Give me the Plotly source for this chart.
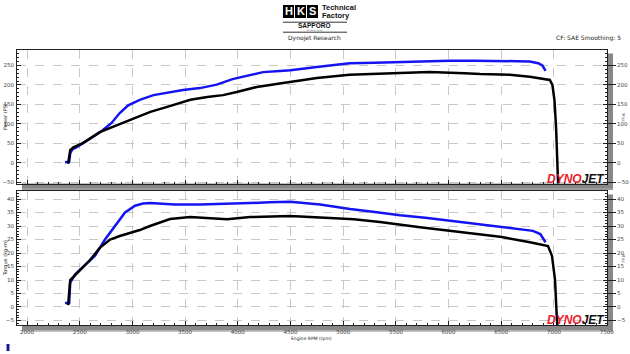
import plotly.graph_objects as go

# ---------------- data ----------------
rpm_pw_mod = [2360, 2400, 2410, 2430, 2480, 2530, 2600, 2700, 2800, 2880, 2960, 3070, 3200, 3350,
              3480, 3640, 3800, 3950, 4100, 4240, 4400, 4500, 4750, 5060, 5300, 5540, 5800, 6010,
              6250, 6490, 6650, 6770, 6850, 6890, 6920]
pw_mod = [2, 3, 25, 35, 42, 51, 62, 80, 102, 128, 148, 162, 174, 181,
          187, 192, 201, 215, 224, 233, 236, 238, 246, 256, 257, 259, 261, 262,
          262, 262, 261, 260, 256, 250, 236]

rpm_pw_base = [2390, 2400, 2410, 2440, 2530, 2690, 2850, 3000, 3170, 3330, 3550, 3710, 3860, 3990,
               4180, 4430, 4750, 5060, 5300, 5540, 5820, 6010, 6150, 6300, 6580, 6770, 6910, 6960,
               6985, 7005, 7020, 7030, 7040]
pw_base = [-2, 20, 33, 40, 51, 79, 97, 113, 131, 144, 162, 169, 174, 182,
           195, 205, 218, 226, 229, 231, 233, 232, 230, 228, 226, 221, 215, 213,
           200, 160, 90, 10, -60]

rpm_tq_mod = [2360, 2400, 2410, 2455, 2550, 2645, 2740, 2835, 2930, 3025, 3100, 3170, 3400, 3640,
              3900, 4120, 4300, 4500, 4780, 5065, 5300, 5540, 5800, 6010, 6250, 6490, 6700, 6800,
              6870, 6920]
tq_mod = [1.5, 1.5, 9, 12, 15.5, 19, 25, 30, 35, 37.5, 38.3, 38.5, 38, 38,
          38.2, 38.5, 38.8, 39.0, 38, 36.3, 35.2, 34, 33, 32, 31, 29.7, 28.7, 28.2,
          27, 24]

rpm_tq_base = [2390, 2400, 2410, 2503, 2598, 2693, 2788, 2880, 2977, 3070, 3167, 3357, 3547, 3736,
               3900, 4116, 4300, 4495, 4875, 5100, 5349, 5729, 6108, 6488, 6772, 6900, 6943, 6981,
               7010, 7028, 7040]
tq_base = [0.7, 5, 10, 13.7, 17.4, 22, 25, 26.3, 27.4, 28.5, 30, 32.6, 33.3, 33,
           32.5, 33.3, 33.5, 33.7, 33, 32.5, 31.5, 29.5, 27.8, 26, 24, 23, 22.6, 19,
           10, -5, -10]

x_ticks = [2000, 2500, 3000, 3500, 4000, 4500, 5000, 5500, 6000, 6500, 7000, 7500]
pw_ticks = [-50, 0, 50, 100, 150, 200, 250]
tq_ticks = [-5, 0, 5, 10, 15, 20, 25, 30, 35, 40]

W, H = 630, 354
def fx(px): return px / W
def fy(px): return 1 - px / H

X0, X1 = 17, 607
T0, T1 = 49.5, 183.5
B0, B1 = 190.5, 325

BLUE = "#1414f0"
FONT = "DejaVu Sans"
TICKC = "#444444"
GRIDC = "#c8c8c8"

fig = go.Figure()
fig.add_trace(go.Scatter(x=rpm_pw_mod, y=pw_mod, mode="lines", line=dict(color=BLUE, width=2.5),
                         xaxis="x", yaxis="y", showlegend=False))
fig.add_trace(go.Scatter(x=rpm_pw_base, y=pw_base, mode="lines", line=dict(color="black", width=2.5),
                         xaxis="x", yaxis="y", showlegend=False))
fig.add_trace(go.Scatter(x=rpm_tq_mod, y=tq_mod, mode="lines", line=dict(color=BLUE, width=2.5),
                         xaxis="x2", yaxis="y2", showlegend=False))
fig.add_trace(go.Scatter(x=rpm_tq_base, y=tq_base, mode="lines", line=dict(color="black", width=2.5),
                         xaxis="x2", yaxis="y2", showlegend=False))
# anchors for right-hand axes
fig.add_trace(go.Scatter(x=[None], y=[None], xaxis="x", yaxis="y3", showlegend=False, hoverinfo="skip"))
fig.add_trace(go.Scatter(x=[None], y=[None], xaxis="x2", yaxis="y4", showlegend=False, hoverinfo="skip"))

xr = [1905, 7503]
pr = [-52.6, 291]
tr = [-6.67, 43.15]

def xax(anchor, labels):
    return dict(domain=[fx(X0), fx(X1)], range=xr, anchor=anchor, tickvals=x_ticks, automargin=False,
                showticklabels=labels, ticks="inside", ticklen=4, tickcolor="#222",
                minor=dict(dtick=100, tick0=2000, ticks="inside", ticklen=2, tickcolor="#222", showgrid=False),
                showgrid=True, gridcolor=GRIDC, griddash="dash", gridwidth=1,
                showline=True, linecolor="#222", linewidth=1, mirror=True, zeroline=False,
                tickfont=dict(size=5.5, color=TICKC, family=FONT), ticklabelstandoff=1)

def yax(anchor, dom, rng, tv, dt):
    return dict(domain=dom, range=rng, anchor=anchor, tickvals=tv, automargin=False,
                ticks="inside", ticklen=4, tickcolor="#222",
                minor=dict(dtick=dt, tick0=0, ticks="inside", ticklen=2, tickcolor="#222", showgrid=False),
                showgrid=True, gridcolor=GRIDC, griddash="dash", gridwidth=1,
                showline=True, linecolor="#222", linewidth=1, mirror="allticks", zeroline=False,
                tickfont=dict(size=5.5, color=TICKC, family=FONT), ticklabelstandoff=1)

def yright(anchor, over, dom, rng, tv):
    return dict(domain=dom, range=rng, anchor=anchor, overlaying=over, side="right", tickvals=tv,
                automargin=False, ticks="outside", ticklen=8, tickcolor="#222", showgrid=False,
                zeroline=False, showline=False, tickfont=dict(size=5.5, color=TICKC, family=FONT))

fig.update_layout(
    width=W, height=H, margin=dict(l=0, r=0, t=0, b=0, autoexpand=False),
    paper_bgcolor="white", plot_bgcolor="white",
    xaxis=xax("y", False),
    xaxis2=xax("y2", True),
    yaxis=yax("x", [fy(T1), fy(T0)], pr, pw_ticks, 10),
    yaxis2=yax("x2", [fy(B1), fy(B0)], tr, tq_ticks, 1),
    yaxis3=yright("x", "y", [fy(T1), fy(T0)], pr, pw_ticks),
    yaxis4=yright("x2", "y2", [fy(B1), fy(B0)], tr, tq_ticks),
)

shapes = []
# drop shadows of the panels
for (a, b) in [(T0, T1), (B0, B1)]:
    shapes.append(dict(type="rect", xref="paper", yref="paper", x0=fx(X1), x1=fx(X1 + 6),
                       y0=fy(b + 6.5), y1=fy(a + 4), fillcolor="#888888", line=dict(width=0), layer="below"))
    shapes.append(dict(type="rect", xref="paper", yref="paper", x0=fx(X0 + 5), x1=fx(X1 + 6),
                       y0=fy(b + 6.5), y1=fy(b), fillcolor="#888888", line=dict(width=0), layer="below"))
    shapes.append(dict(type="line", xref="paper", yref="paper", x0=fx(X0 + 5), x1=fx(X1 + 6),
                       y0=fy(b + 5.5), y1=fy(b + 5.5), line=dict(color="#b0b0b0", width=1), layer="below"))
# HKS logo boxes
for i in range(3):
    shapes.append(dict(type="rect", xref="paper", yref="paper", x0=fx(283 + i * 12), x1=fx(294 + i * 12),
                       y0=fy(18), y1=fy(5), fillcolor="black", line=dict(width=0)))
# rules around SAPPORO
for yy in (22.2, 32.2):
    shapes.append(dict(type="line", xref="paper", yref="paper", x0=fx(283), x1=fx(347),
                       y0=fy(yy), y1=fy(yy), line=dict(color="#333", width=1)))
# tiny marker bottom-left
shapes.append(dict(type="rect", xref="paper", yref="paper", x0=fx(6.5), x1=fx(9.5),
                   y0=fy(351), y1=fy(344), fillcolor="#1a1a90", line=dict(width=0)))
fig.update_layout(shapes=shapes)

ann = []
def txt(x, y, s, size, color="#222", xanchor="center", angle=0, family=FONT, weight="normal"):
    ann.append(dict(x=fx(x), y=fy(y), xref="paper", yref="paper", text=s, showarrow=False,
                    xanchor=xanchor, yanchor="middle", textangle=angle,
                    font=dict(size=size, color=color, family=family, weight=weight)))

for i, ch in enumerate("HKS"):
    txt(288.5 + i * 12, 11.5, ch, 11, color="white", family="Liberation Sans", weight="bold")
txt(320, 7.5, "Technical", 7.5, color="#111", xanchor="left", family="Liberation Sans", weight="bold")
txt(320, 15.5, "Factory", 7.5, color="#111", xanchor="left", family="Liberation Sans", weight="bold")
txt(314, 26.0, "SAPPORO", 6.5, color="#111", family="Liberation Sans", weight="bold")
txt(314, 30.8, "HKS Assist Shop", 2, color="#555")
txt(314, 38, "Dynojet Research", 6, color="#222")
txt(623, 38, "CF: SAE Smoothing: 5", 6, color="#222", xanchor="right")
txt(5, 117, "Power (PS)", 5, angle=-90)
txt(5, 258, "Torque (kg-m)", 5, angle=-90)
txt(624, 117, "Misc", 4, color="#446", angle=90)
txt(624, 258, "Misc", 4, color="#446", angle=90)
txt(311, 338.5, "Engine RPM (rpm)", 4.5)
for yy in (178.5, 319.5):
    ann.append(dict(x=fx(607), y=fy(yy), xref="paper", yref="paper",
                    text="<span style='color:#e8202a'>DYNO</span><span style='color:#111'>JET</span>",
                    showarrow=False, xanchor="right", yanchor="middle",
                    font=dict(size=12, family="Liberation Sans", weight="bold", style="italic")))
fig.update_layout(annotations=ann)

fig.write_html("out.html")
